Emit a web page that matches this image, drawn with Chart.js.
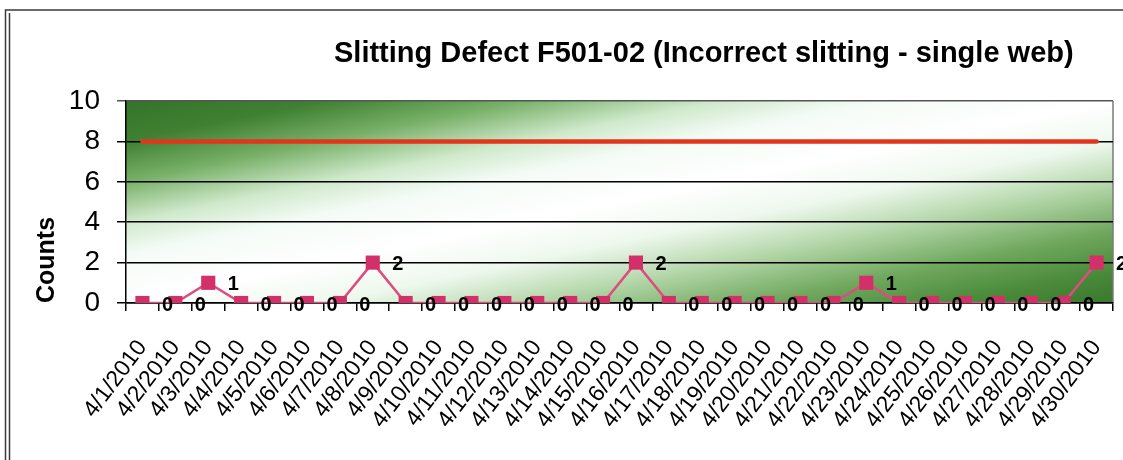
<!DOCTYPE html>
<html>
<head>
<meta charset="utf-8">
<script src="https://cdn.jsdelivr.net/npm/chart.js@4/dist/chart.umd.min.js"></script>
<style>
  html, body { margin: 0; padding: 0; background: #ffffff; }
  #wrap { position: relative; width: 1123px; height: 460px; }
  canvas { display: block; }
</style>
</head>
<body>
<div id="wrap"><canvas id="chart" width="1123" height="460"></canvas></div>
<script>
// Daily counts for April 2010
const dates = [
  '4/1/2010','4/2/2010','4/3/2010','4/4/2010','4/5/2010','4/6/2010','4/7/2010','4/8/2010',
  '4/9/2010','4/10/2010','4/11/2010','4/12/2010','4/13/2010','4/14/2010','4/15/2010','4/16/2010',
  '4/17/2010','4/18/2010','4/19/2010','4/20/2010','4/21/2010','4/22/2010','4/23/2010','4/24/2010',
  '4/25/2010','4/26/2010','4/27/2010','4/28/2010','4/29/2010','4/30/2010'
];
const counts = [0,0,1,0,0,0,0,2,0,0,0,0,0,0,0,2,0,0,0,0,0,0,1,0,0,0,0,0,0,2];
const limit = [8,8,8,8,8,8,8,8,8,8,8,8,8,8,8,8,8,8,8,8,8,8,8,8,8,8,8,8,8,8];
const yTicks = [0,2,4,6,8,10];

const titleText = 'Slitting Defect F501-02 (Incorrect slitting - single web)';
const FONT = "'Liberation Sans', Arial, sans-serif";

// Outer frame, diagonal green/white plot fill and title
const decor = {
  id: 'decor',
  beforeDraw(chart) {
    const ctx = chart.ctx;
    const a = chart.chartArea;
    ctx.save();
    ctx.fillStyle = '#ffffff';
    ctx.fillRect(0, 0, chart.width, chart.height);

    // frame
    ctx.strokeStyle = '#3a3a3a';
    ctx.lineWidth = 1.5;
    ctx.beginPath();
    ctx.moveTo(5.5, 460); ctx.lineTo(5.5, 10); ctx.lineTo(1123, 10);
    ctx.moveTo(9.5, 460); ctx.lineTo(9.5, 13);
    ctx.stroke();

    // plot area fill: isolines parallel to the rising diagonal
    const w = a.right - a.left, h = a.bottom - a.top;
    const cx = (a.left + a.right) / 2, cy = (a.top + a.bottom) / 2;
    const n = Math.sqrt(w * w + h * h);
    const dx = h / n, dy = w / n, k = w * h / n;
    const g = ctx.createLinearGradient(cx - dx * k, cy - dy * k, cx + dx * k, cy + dy * k);
    g.addColorStop(0.00, '#34742a');
    g.addColorStop(0.10, '#3f8032');
    g.addColorStop(0.20, '#78b068');
    g.addColorStop(0.30, '#cfe9cb');
    g.addColorStop(0.38, '#f4fbf6');
    g.addColorStop(0.50, '#ffffff');
    g.addColorStop(0.60, '#eef8ee');
    g.addColorStop(0.70, '#b6d8ac');
    g.addColorStop(0.82, '#70a85e');
    g.addColorStop(0.92, '#4a8a3a');
    g.addColorStop(1.00, '#3a782e');
    ctx.fillStyle = g;
    ctx.fillRect(a.left, a.top, w, h);

    ctx.strokeStyle = '#7a7a7a';
    ctx.lineWidth = 1.5;
    ctx.beginPath();
    ctx.moveTo(a.right, a.top); ctx.lineTo(a.right, a.bottom);
    ctx.stroke();

    // title
    ctx.fillStyle = '#000000';
    ctx.font = 'bold 29px ' + FONT;
    ctx.textAlign = 'left';
    ctx.textBaseline = 'alphabetic';
    ctx.fillText(titleText, 334, 62);
    ctx.restore();
  }
};

// Value labels beside each marker of the counts series
const valueLabels = {
  id: 'valueLabels',
  afterDatasetsDraw(chart) {
    const ctx = chart.ctx;
    const meta = chart.getDatasetMeta(0);
    ctx.save();
    ctx.fillStyle = '#000000';
    ctx.font = 'bold 20px ' + FONT;
    ctx.textAlign = 'center';
    ctx.textBaseline = 'middle';
    meta.data.forEach((pt, i) => {
      ctx.fillText(String(counts[i]), pt.x + 25, pt.y + 2);
    });
    ctx.restore();
  }
};

new Chart(document.getElementById('chart'), {
  type: 'line',
  data: {
    labels: dates,
    datasets: [
      {
        label: 'Counts',
        data: counts,
        borderColor: '#dc4d80',
        backgroundColor: '#d3306a',
        borderWidth: 2.5,
        pointStyle: 'rect',
        pointRadius: 10,
        pointBorderWidth: 0,
        pointBackgroundColor: '#d3306a',
        tension: 0
      },
      {
        label: 'Limit',
        data: limit,
        borderColor: '#e2361c',
        borderWidth: 4.5,
        borderCapStyle: 'round',
        pointRadius: 0,
        tension: 0
      }
    ]
  },
  options: {
    responsive: false,
    devicePixelRatio: 1,
    animation: false,
    layout: { padding: { top: 101, right: 8, left: 0, bottom: 0 } },
    plugins: {
      legend: { display: false },
      title: { display: false },
      tooltip: { enabled: false }
    },
    scales: {
      x: {
        type: 'category',
        offset: true,
        grid: {
          offset: true,
          drawOnChartArea: false,
          drawTicks: true,
          tickLength: 8,
          color: '#000000',
          lineWidth: 1.5
        },
        border: { display: true, color: '#000000', width: 1.5 },
        ticks: {
          autoSkip: false,
          minRotation: 53,
          maxRotation: 53,
          padding: 24,
          color: '#000000',
          font: { family: FONT, size: 23 }
        },
        afterFit(scale) {
          scale.height = 157;
          scale.paddingLeft = 0;
          scale.paddingRight = 0;
        }
      },
      y: {
        min: 0,
        max: 10,
        afterBuildTicks(scale) { scale.ticks = yTicks.map(v => ({ value: v })); },
        grid: {
          drawTicks: true,
          tickLength: 9,
          color: (c) => (c.tick && c.tick.value === 10 ? '#555555' : '#000000'),
          lineWidth: 1.5
        },
        border: { display: true, color: '#000000', width: 1.5 },
        ticks: {
          padding: 17,
          color: '#000000',
          font: { family: FONT, size: 28 }
        },
        title: {
          display: true,
          text: 'Counts',
          align: 'start',
          color: '#000000',
          font: { family: FONT, size: 25, weight: 'bold' },
          padding: { top: 32, bottom: 0 }
        },
        afterFit(scale) { scale.width = 126; }
      }
    }
  },
  plugins: [decor, valueLabels]
});
</script>
</body>
</html>
